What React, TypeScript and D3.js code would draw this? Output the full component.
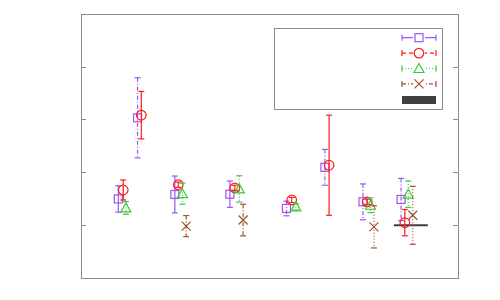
import React from 'react';
import * as d3 from 'd3';

// canvas
const width = 500;
const height = 300;

// plot frame
const left = 81;
const right = 458;
const top = 14.5;
const bottom = 278;

// data (x positions, values, error half-widths)
const purpleX = [0.99, 1.5, 2.49, 3.95, 5.45, 6.47, 7.48, 8.49];
const purpleY = [1.5, 3.04, 1.585, 1.59, 1.32, 2.1, 1.445, 1.49];
const purpleErr = [0.25, 0.76, 0.35, 0.25, 0.14, 0.34, 0.34, 0.4];

const redX = [1.12, 1.6, 2.58, 4.08, 5.59, 6.58, 7.59, 8.59];
const redY = [1.67, 3.09, 1.77, 1.71, 1.48, 2.14, 1.445, 1.05];
const redErr = [0.19, 0.45, 0.05, 0.05, 0.05, 0.95, 0.05, 0.25];

const greenX = [1.19, 2.69, 4.2, 5.7, 7.68, 8.68];
const greenY = [1.33, 1.6, 1.69, 1.35, 1.38, 1.59];
const greenErr = [0.12, 0.2, 0.25, 0.06, 0.14, 0.25];

const brownX = [2.79, 4.3, 7.77, 8.8];
const brownY = [0.985, 1.1, 0.97, 1.19];
const brownErr = [0.2, 0.3, 0.4, 0.55];

const barStart = [8.3];
const barEnd = [9.2];
const barValue = [1.0];

const yTicks = [1, 2, 3, 4];

// styles
const solid = 'none';
const dashed = '4,3';
const dotted = '1,2';
const dashDot = '4,2,1,2';

const purpleDash = [solid, dashDot, solid, solid, dashDot, dashDot, dashDot, dashDot];
const redDash = [solid, solid, solid, solid, solid, solid, solid, solid];
const greenDash = [dotted, dotted, dotted, dotted, dotted, dotted];
const brownDash = [dashDot, dashDot, dotted, dotted];

const purple = '#9d55f2';
const red = '#ff1a1a';
const green = '#3cc83c';
const brown = '#a0522d';
const frameColor = '#8c8c8c';

const x = d3.scaleLinear().domain([0, 10]).range([left, right]);
const y = d3.scaleLinear().domain([0, 5]).range([bottom, top]);

const capW = 3;
const markSize = 4;

const Marker = ({ kind, cx, cy, color }) => {
  if (kind === 'square')
    return (
      <rect x={cx - markSize} y={cy - markSize} width={markSize * 2} height={markSize * 2}
        fill="none" stroke={color} strokeWidth={1.2} />
    );
  if (kind === 'circle')
    return <circle cx={cx} cy={cy} r={4.8} fill="none" stroke={color} strokeWidth={1.2} />;
  if (kind === 'triangle') {
    const tri = d3.line()([[cx, cy - 5], [cx + 5, cy + 4], [cx - 5, cy + 4]]) + 'Z';
    return <path d={tri} fill="none" stroke={color} strokeWidth={1.2} />;
  }
  return (
    <path d={`M${cx - 4.5},${cy - 4.5}L${cx + 4.5},${cy + 4.5}M${cx - 4.5},${cy + 4.5}L${cx + 4.5},${cy - 4.5}`}
      stroke={color} strokeWidth={1.2} />
  );
};

const ErrorSeries = ({ xs, ys, errs, dashes, color, kind }) => (
  <g>
    {xs.map((xv, i) => {
      const cx = x(xv);
      const y0 = y(ys[i] + errs[i]);
      const y1 = y(ys[i] - errs[i]);
      return (
        <g key={i}>
          <line x1={cx} x2={cx} y1={y0} y2={y1} stroke={color} strokeWidth={1.2}
            strokeDasharray={dashes[i]} />
          <line x1={cx - capW} x2={cx + capW} y1={y0} y2={y0} stroke={color} strokeWidth={1.2} />
          <line x1={cx - capW} x2={cx + capW} y1={y1} y2={y1} stroke={color} strokeWidth={1.2} />
          <Marker kind={kind} cx={cx} cy={y(ys[i])} color={color} />
        </g>
      );
    })}
  </g>
);

const legendItems = [
  { kind: 'square', color: purple, dash: solid },
  { kind: 'circle', color: red, dash: dashed },
  { kind: 'triangle', color: green, dash: dotted },
  { kind: 'x', color: brown, dash: dashDot },
];

const LegendEntry = ({ item, cy }) => (
  <g>
    <line x1={402} x2={436} y1={cy} y2={cy} stroke={item.color} strokeWidth={1.2}
      strokeDasharray={item.dash} />
    <line x1={402} x2={402} y1={cy - 3} y2={cy + 3} stroke={item.color} strokeWidth={1.2} />
    <line x1={436} x2={436} y1={cy - 3} y2={cy + 3} stroke={item.color} strokeWidth={1.2} />
    <rect x={413} y={cy - 6} width={12} height={12} fill="white" />
    <Marker kind={item.kind} cx={419} cy={cy} color={item.color} />
  </g>
);

const App = () => (
  <svg width={width} height={height} style={{ position: 'absolute', left: 0, top: 0 }}>
    <rect width={width} height={height} fill="white" />
    {/* frame */}
    <rect x={left} y={top} width={right - left} height={bottom - top}
      fill="none" stroke={frameColor} strokeWidth={1} shapeRendering="crispEdges" />
    {yTicks.map((t) => (
      <g key={t}>
        <line x1={left} x2={left + 5} y1={y(t)} y2={y(t)} stroke={frameColor} shapeRendering="crispEdges" />
        <line x1={right - 5} x2={right} y1={y(t)} y2={y(t)} stroke={frameColor} shapeRendering="crispEdges" />
      </g>
    ))}

    {/* bar */}
    {barStart.map((b, i) => (
      <line key={i} x1={x(b)} x2={x(barEnd[i])} y1={y(barValue[i])} y2={y(barValue[i])}
        stroke="#404040" strokeWidth={2} />
    ))}

    <ErrorSeries xs={purpleX} ys={purpleY} errs={purpleErr} dashes={purpleDash} color={purple} kind="square" />
    <ErrorSeries xs={redX} ys={redY} errs={redErr} dashes={redDash} color={red} kind="circle" />
    <ErrorSeries xs={greenX} ys={greenY} errs={greenErr} dashes={greenDash} color={green} kind="triangle" />
    <ErrorSeries xs={brownX} ys={brownY} errs={brownErr} dashes={brownDash} color={brown} kind="x" />

    {/* legend */}
    <rect x={274.5} y={28.5} width={168} height={81} fill="white" stroke={frameColor} strokeWidth={1} />
    {legendItems.map((item, i) => (
      <LegendEntry key={i} item={item} cy={37.7 + i * 15.4} />
    ))}
    <rect x={402} y={96} width={34} height={8} fill="#404040" />
  </svg>
);

export default App;
